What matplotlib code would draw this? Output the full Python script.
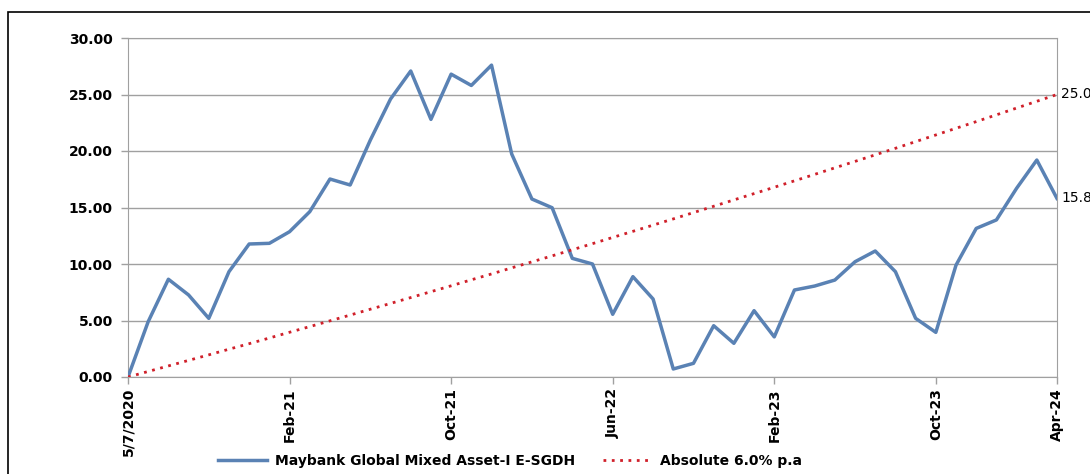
import matplotlib
matplotlib.use("Agg")
import matplotlib.pyplot as plt
from matplotlib.patches import Rectangle

fund_name = "Maybank Global Mixed Asset-I E-SGDH"
bench_name = "Absolute 6.0% p.a"

fund = [0.0, 4.9, 8.65, 7.26, 5.19, 9.32, 11.77, 11.83, 12.86, 14.63,
        17.52, 16.99, 20.97, 24.6, 27.08, 22.8, 26.8, 25.8, 27.6, 19.73,
        15.75, 14.98, 10.5, 10.0, 5.55, 8.88, 6.9, 0.71, 1.21, 4.54,
        2.98, 5.87, 3.55, 7.7, 8.05, 8.58, 10.2, 11.15, 9.32, 5.19,
        3.95, 9.9, 13.15, 13.9, 16.7, 19.2, 15.8]

bench = [0.0, 0.49, 0.98, 1.47, 1.96, 2.46, 2.95, 3.45, 3.96, 4.46,
         4.97, 5.48, 6.0, 6.51, 7.03, 7.55, 8.07, 8.6, 9.12, 9.66,
         10.19, 10.72, 11.26, 11.8, 12.35, 12.89, 13.44, 13.99, 14.55, 15.11,
         15.67, 16.23, 16.79, 17.36, 17.93, 18.51, 19.08, 19.66, 20.24, 20.83,
         21.42, 22.01, 22.6, 23.2, 23.8, 24.4, 25.0]

tick_idx = [0, 8, 16, 24, 32, 40, 46]
tick_labels = ["5/7/2020", "Feb-21", "Oct-21", "Jun-22", "Feb-23", "Oct-23", "Apr-24"]
y_ticks = [0, 5, 10, 15, 20, 25, 30]

fig = plt.figure(figsize=(10.9, 4.74), dpi=100)
fig.patches.append(Rectangle((8/1090, -0.1), 1.2, 1 - 12/474 + 0.1,
                             transform=fig.transFigure, fill=False,
                             edgecolor="black", linewidth=1.2))
ax = fig.add_axes([128/1090, 1 - 377/474, (1057-128)/1090, (377-38)/474])

x = list(range(len(fund)))
ax.plot(x, fund, color="#5A82B4", linewidth=2.5, label=fund_name, zorder=3)
ax.plot(x, bench, color="#D0202A", linewidth=2, linestyle=(0, (1, 2)),
        label=bench_name, zorder=3)

ax.set_xlim(0, len(fund) - 1)
ax.set_ylim(0, 30)
ax.set_yticks(y_ticks)
ax.set_yticklabels([f"{v:.2f}" for v in y_ticks], fontsize=10, fontweight="bold")
ax.set_xticks(tick_idx)
ax.set_xticklabels(tick_labels, rotation=90, fontsize=10, fontweight="bold")
ax.grid(axis="y", color="#A0A0A0", linewidth=1)
for s in ax.spines.values():
    s.set_color("#A0A0A0")
ax.tick_params(axis="both", color="#A0A0A0", length=5, width=1)
ax.tick_params(axis="y", pad=6)
ax.tick_params(axis="x", pad=3)

ax.annotate(f"{bench[-1]:.1f}", xy=(x[-1], bench[-1]), xytext=(3, 0),
            textcoords="offset points", va="center", ha="left", fontsize=10,
            annotation_clip=False)
ax.annotate(f"{fund[-1]:.1f}", xy=(x[-1], fund[-1]), xytext=(3, 0),
            textcoords="offset points", va="center", ha="left", fontsize=10,
            annotation_clip=False)

fig.legend(loc="center", bbox_to_anchor=(510/1090, 1 - 461/474), ncol=2,
           frameon=False, prop={"size": 10, "weight": "bold"},
           handlelength=3.5, columnspacing=2, handletextpad=0.6)

fig.savefig("out.png", dpi=100)
